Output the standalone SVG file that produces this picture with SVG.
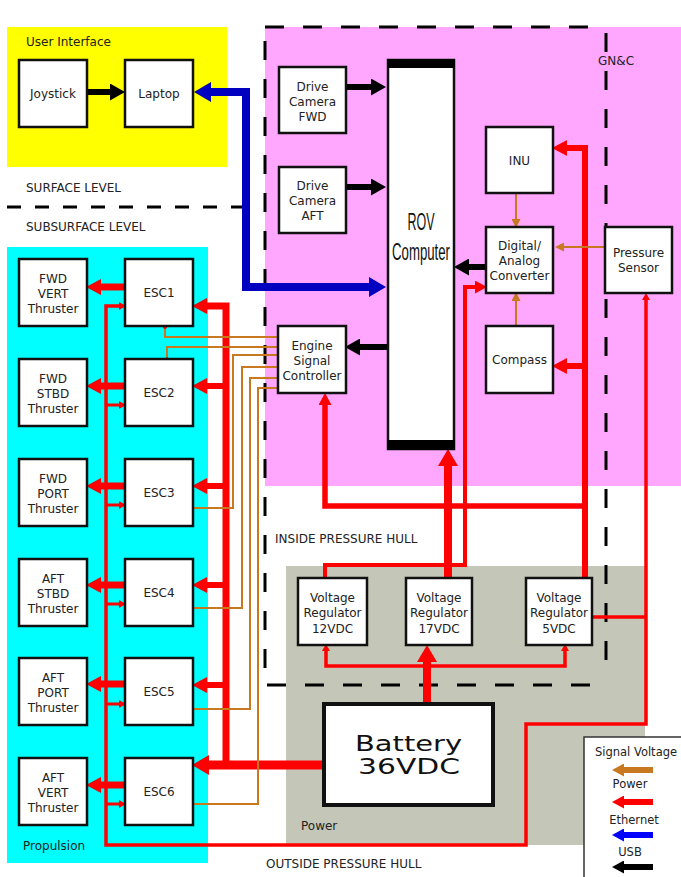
<svg xmlns="http://www.w3.org/2000/svg" width="681" height="877" viewBox="0 0 681 877">
<style>
.box{fill:#fff;stroke:#111;stroke-width:2.5}
.t{font-family:"DejaVu Sans",Verdana,sans-serif;font-size:12px;fill:#222}
.c{text-anchor:middle}
.rd{stroke:#f00;fill:none;stroke-linejoin:miter}
.or{stroke:#C8781E;fill:none;stroke-width:2}
.bk{stroke:#000;stroke-width:6;fill:none}
.bl{stroke:#0000C0;stroke-width:8;fill:none}
.dash{stroke:#000;stroke-width:3;fill:none}
.bat{font-family:"DejaVu Sans",Verdana,sans-serif;font-size:21px;fill:#111;text-anchor:middle}
</style>
<defs>
<marker id="mBk" markerUnits="userSpaceOnUse" markerWidth="15" markerHeight="17" viewBox="0 0 15 17" refX="0" refY="8.5" orient="auto-start-reverse"><path d="M0,0L15,8.5L0,17z" fill="#000"/></marker>
<marker id="mRd" markerUnits="userSpaceOnUse" markerWidth="15" markerHeight="16" viewBox="0 0 15 16" refX="0" refY="8" orient="auto-start-reverse"><path d="M0,0L15,8L0,16z" fill="#f00"/></marker>
<marker id="mRdL" markerUnits="userSpaceOnUse" markerWidth="17" markerHeight="20" viewBox="0 0 17 20" refX="0" refY="10" orient="auto-start-reverse"><path d="M0,0L17,10L0,20z" fill="#f00"/></marker>
<marker id="mRdM" markerUnits="userSpaceOnUse" markerWidth="12" markerHeight="13" viewBox="0 0 12 13" refX="0" refY="6.5" orient="auto-start-reverse"><path d="M0,0L12,6.5L0,13z" fill="#f00"/></marker>
<marker id="mRdS" markerUnits="userSpaceOnUse" markerWidth="7" markerHeight="8" viewBox="0 0 7 8" refX="0" refY="4" orient="auto-start-reverse"><path d="M0,0L7,4L0,8z" fill="#f00"/></marker>
<marker id="mBl" markerUnits="userSpaceOnUse" markerWidth="17" markerHeight="20" viewBox="0 0 17 20" refX="0" refY="10" orient="auto-start-reverse"><path d="M0,0L17,10L0,20z" fill="#0000C0"/></marker>
<marker id="mOr" markerUnits="userSpaceOnUse" markerWidth="9" markerHeight="9" viewBox="0 0 9 9" refX="0" refY="4.5" orient="auto-start-reverse"><path d="M0,0L9,4.5L0,9z" fill="#C8781E"/></marker>
<marker id="lOr" markerUnits="userSpaceOnUse" markerWidth="12" markerHeight="13" viewBox="0 0 12 13" refX="0" refY="6.5" orient="auto"><path d="M0,0L12,6.5L0,13z" fill="#C8781E"/></marker>
<marker id="lRd" markerUnits="userSpaceOnUse" markerWidth="12" markerHeight="13" viewBox="0 0 12 13" refX="0" refY="6.5" orient="auto"><path d="M0,0L12,6.5L0,13z" fill="#f00"/></marker>
<marker id="lBl" markerUnits="userSpaceOnUse" markerWidth="12" markerHeight="13" viewBox="0 0 12 13" refX="0" refY="6.5" orient="auto"><path d="M0,0L12,6.5L0,13z" fill="#0000FF"/></marker>
<marker id="lBk" markerUnits="userSpaceOnUse" markerWidth="12" markerHeight="13" viewBox="0 0 12 13" refX="0" refY="6.5" orient="auto"><path d="M0,0L12,6.5L0,13z" fill="#000"/></marker>
</defs>
<rect width="681" height="877" fill="#fff"/>
<g id="regions">
<rect x="7" y="27" width="220" height="140" fill="#FFFF00"/>
<rect x="7" y="247" width="201" height="616" fill="#00FFFF"/>
<rect x="265" y="27" width="416" height="459" fill="#FFA6FF"/>
<rect x="286" y="566" width="359" height="279" fill="#C4C7B7"/>
</g>
<g id="boundaries">
<path class="dash" d="M7,207H250" stroke-dasharray="14 14"/>
<path class="dash" d="M265,27H598M606,33V662M590,685H265V27" stroke-dasharray="19 19"/>
</g>
<g id="region-labels">
<text class="t" x="26" y="46">User Interface</text>
<text class="t" x="26" y="192">SURFACE LEVEL</text>
<text class="t" x="26" y="231">SUBSURFACE LEVEL</text>
<text class="t" x="598" y="65">GN&amp;C</text>
<text class="t" x="275" y="543">INSIDE PRESSURE HULL</text>
<text class="t" x="266" y="868">OUTSIDE PRESSURE HULL</text>
<text class="t" x="23" y="850">Propulsion</text>
<text class="t" x="301" y="830">Power</text>
</g>
<g id="connectors">
<path class="bk" d="M87,92H110" marker-end="url(#mBk)"/>
<path class="bk" d="M346,87H371" marker-end="url(#mBk)"/>
<path class="bk" d="M346,187H371" marker-end="url(#mBk)"/>
<path class="bk" d="M486,267H469" marker-end="url(#mBk)"/>
<path class="bk" d="M388,347H360" marker-end="url(#mBk)"/>
<path class="bl" d="M211,92H246V287H369" marker-start="url(#mBl)" marker-end="url(#mBl)"/>
<path class="rd" stroke-width="6" d="M585,578V148H567" marker-end="url(#mRd)"/>
<path class="rd" stroke-width="6" d="M585,366H567" marker-end="url(#mRd)"/>
<path class="rd" stroke-width="5.5" d="M585,506H325V405" marker-end="url(#mRdM)"/>
<path class="rd" stroke-width="4" d="M325,578V565H465V287H475" marker-end="url(#mRdM)"/>
<path class="rd" stroke-width="8" d="M448,578V466" marker-end="url(#mRdL)"/>
<path class="rd" stroke-width="8" d="M427,704V662" marker-end="url(#mRdL)"/>
<path class="rd" stroke-width="3.5" d="M326,651V666H565V651" marker-start="url(#mRdS)" marker-end="url(#mRdS)"/>
<path class="rd" stroke-width="3.5" d="M592,617H646"/>
<path class="rd" stroke-width="3.5" d="M646,300V724H526V845H106V306H119" marker-start="url(#mRdS)" marker-end="url(#mRdS)"/>
<path class="rd" stroke-width="3" d="M106,405H119" marker-end="url(#mRdS)"/>
<path class="rd" stroke-width="3" d="M106,505H119" marker-end="url(#mRdS)"/>
<path class="rd" stroke-width="3" d="M106,604H119" marker-end="url(#mRdS)"/>
<path class="rd" stroke-width="3" d="M106,704H119" marker-end="url(#mRdS)"/>
<path class="rd" stroke-width="3" d="M106,804H119" marker-end="url(#mRdS)"/>
<path class="rd" stroke-width="9" d="M324,765H209" marker-end="url(#mRdL)"/>
<path class="rd" stroke-width="7" d="M226,765V306H207" marker-end="url(#mRd)"/>
<path class="rd" stroke-width="6" d="M226,386H207" marker-end="url(#mRd)"/>
<path class="rd" stroke-width="6" d="M226,486H207" marker-end="url(#mRd)"/>
<path class="rd" stroke-width="6" d="M226,585H207" marker-end="url(#mRd)"/>
<path class="rd" stroke-width="6" d="M226,685H207" marker-end="url(#mRd)"/>
<path class="rd" stroke-width="7" d="M125,287H101" marker-end="url(#mRd)"/>
<path class="rd" stroke-width="7" d="M125,386H101" marker-end="url(#mRd)"/>
<path class="rd" stroke-width="7" d="M125,486H101" marker-end="url(#mRd)"/>
<path class="rd" stroke-width="7" d="M125,585H101" marker-end="url(#mRd)"/>
<path class="rd" stroke-width="7" d="M125,684H101" marker-end="url(#mRd)"/>
<path class="rd" stroke-width="7" d="M125,785H101" marker-end="url(#mRd)"/>
<path class="or" d="M516,193V219" marker-end="url(#mOr)"/>
<path class="or" d="M516,326V301" marker-end="url(#mOr)"/>
<path class="or" d="M605,247H564" marker-end="url(#mOr)"/>
<path class="or" d="M278,337H165V327"/>
<path class="or" d="M278,347H167V359"/>
<path class="or" d="M278,355H233V508H193"/>
<path class="or" d="M278,367H242V608H193"/>
<path class="or" d="M278,378H250V709H193"/>
<path class="or" d="M278,388H258V804H193"/>
<circle cx="165" cy="327" r="2" fill="#f00"/>
<circle cx="167" cy="359" r="1.6" fill="#000"/>
</g>
<g id="joystick"><rect class="box" x="19" y="60" width="68" height="67"/><text class="t c" x="53" y="97.5">Joystick</text></g>
<g id="laptop"><rect class="box" x="125" y="60" width="68" height="67"/><text class="t c" x="159" y="97.5">Laptop</text></g>
<g id="cam-fwd"><rect class="box" x="279" y="67" width="67" height="66"/><text class="t c" x="312.5" y="90.5">Drive<tspan x="312.5" dy="15">Camera</tspan><tspan x="312.5" dy="15">FWD</tspan></text></g>
<g id="cam-aft"><rect class="box" x="279" y="167" width="67" height="66"/><text class="t c" x="312.5" y="189.5">Drive<tspan x="312.5" dy="15">Camera</tspan><tspan x="312.5" dy="15">AFT</tspan></text></g>
<g id="rov-computer"><rect class="box" x="388" y="60" width="66" height="389"/><rect x="387" y="59" width="68" height="9" fill="#000"/><rect x="387" y="440" width="68" height="10" fill="#000"/>
<text x="421" y="230" text-anchor="middle" font-family="'Liberation Sans',Arial,sans-serif" font-size="23" fill="#111" textLength="27" lengthAdjust="spacingAndGlyphs">ROV</text>
<text x="421" y="260" text-anchor="middle" font-family="'Liberation Sans',Arial,sans-serif" font-size="23" fill="#111" textLength="58" lengthAdjust="spacingAndGlyphs">Computer</text></g>
<g id="inu"><rect class="box" x="486" y="127" width="67" height="66"/><text class="t c" x="519.5" y="164.5">INU</text></g>
<g id="dac"><rect class="box" x="486" y="227" width="67" height="66"/><text class="t c" x="519.5" y="249.5">Digital/<tspan x="519.5" dy="15">Analog</tspan><tspan x="519.5" dy="15">Converter</tspan></text></g>
<g id="compass"><rect class="box" x="486" y="326" width="67" height="67"/><text class="t c" x="519.5" y="363.5">Compass</text></g>
<g id="pressure-sensor"><rect class="box" x="605" y="227" width="67" height="66"/><text class="t c" x="638.5" y="256.5">Pressure<tspan x="638.5" dy="15">Sensor</tspan></text></g>
<g id="engine-signal-controller"><rect class="box" x="278" y="326" width="68" height="67"/><text class="t c" x="312" y="349.5">Engine<tspan x="312" dy="15">Signal</tspan><tspan x="312" dy="15">Controller</tspan></text></g>
<g id="fwd-vert"><rect class="box" x="19" y="259" width="68" height="67"/><text class="t c" x="53" y="282.5">FWD<tspan x="53" dy="15">VERT</tspan><tspan x="53" dy="15">Thruster</tspan></text></g>
<g id="fwd-stbd"><rect class="box" x="19" y="359" width="68" height="67"/><text class="t c" x="53" y="382.5">FWD<tspan x="53" dy="15">STBD</tspan><tspan x="53" dy="15">Thruster</tspan></text></g>
<g id="fwd-port"><rect class="box" x="19" y="459" width="68" height="67"/><text class="t c" x="53" y="482.5">FWD<tspan x="53" dy="15">PORT</tspan><tspan x="53" dy="15">Thruster</tspan></text></g>
<g id="aft-stbd"><rect class="box" x="19" y="559" width="68" height="67"/><text class="t c" x="53" y="582.5">AFT<tspan x="53" dy="15">STBD</tspan><tspan x="53" dy="15">Thruster</tspan></text></g>
<g id="aft-port"><rect class="box" x="19" y="658" width="68" height="67"/><text class="t c" x="53" y="681.5">AFT<tspan x="53" dy="15">PORT</tspan><tspan x="53" dy="15">Thruster</tspan></text></g>
<g id="aft-vert"><rect class="box" x="19" y="758" width="68" height="67"/><text class="t c" x="53" y="781.5">AFT<tspan x="53" dy="15">VERT</tspan><tspan x="53" dy="15">Thruster</tspan></text></g>
<g id="esc1"><rect class="box" x="125" y="259" width="68" height="67"/><text class="t c" x="159" y="297">ESC1</text></g>
<g id="esc2"><rect class="box" x="125" y="359" width="68" height="67"/><text class="t c" x="159" y="397">ESC2</text></g>
<g id="esc3"><rect class="box" x="125" y="459" width="68" height="67"/><text class="t c" x="159" y="497">ESC3</text></g>
<g id="esc4"><rect class="box" x="125" y="559" width="68" height="67"/><text class="t c" x="159" y="597">ESC4</text></g>
<g id="esc5"><rect class="box" x="125" y="658" width="68" height="67"/><text class="t c" x="159" y="696">ESC5</text></g>
<g id="esc6"><rect class="box" x="125" y="758" width="68" height="67"/><text class="t c" x="159" y="796">ESC6</text></g>
<g id="vr12"><rect class="box" x="298" y="578" width="69" height="67"/><text class="t c" x="332.5" y="601.5">Voltage<tspan x="332.5" dy="15.5">Regulator</tspan><tspan x="332.5" dy="15.5">12VDC</tspan></text></g>
<g id="vr17"><rect class="box" x="406" y="578" width="66" height="67"/><text class="t c" x="439" y="601.5">Voltage<tspan x="439" dy="15.5">Regulator</tspan><tspan x="439" dy="15.5">17VDC</tspan></text></g>
<g id="vr5"><rect class="box" x="526" y="578" width="66" height="67"/><text class="t c" x="559" y="601.5">Voltage<tspan x="559" dy="15.5">Regulator</tspan><tspan x="559" dy="15.5">5VDC</tspan></text></g>
<g id="battery"><rect x="324" y="704" width="169" height="101" fill="#fff" stroke="#111" stroke-width="4"/>
<text class="bat" x="408.5" y="751" textLength="107" lengthAdjust="spacingAndGlyphs">Battery</text>
<text class="bat" x="409" y="774" textLength="102" lengthAdjust="spacingAndGlyphs">36VDC</text></g>
<g id="legend"><rect x="584" y="737" width="110" height="150" fill="#fff" stroke="#333" stroke-width="1.5"/>
<text class="t c" x="636" y="756" style="font-size:11.5px">Signal Voltage</text>
<path d="M653,770H624" stroke="#C8781E" stroke-width="6" marker-end="url(#lOr)"/>
<text class="t c" x="630" y="788" style="font-size:11.5px">Power</text>
<path d="M653,802H624" stroke="#f00" stroke-width="6" marker-end="url(#lRd)"/>
<text class="t c" x="634" y="824" style="font-size:11.5px">Ethernet</text>
<path d="M653,835H624" stroke="#0000FF" stroke-width="6" marker-end="url(#lBl)"/>
<text class="t c" x="630" y="856" style="font-size:11.5px">USB</text>
<path d="M653,867H624" stroke="#000" stroke-width="6" marker-end="url(#lBk)"/>
</g>
</svg>
